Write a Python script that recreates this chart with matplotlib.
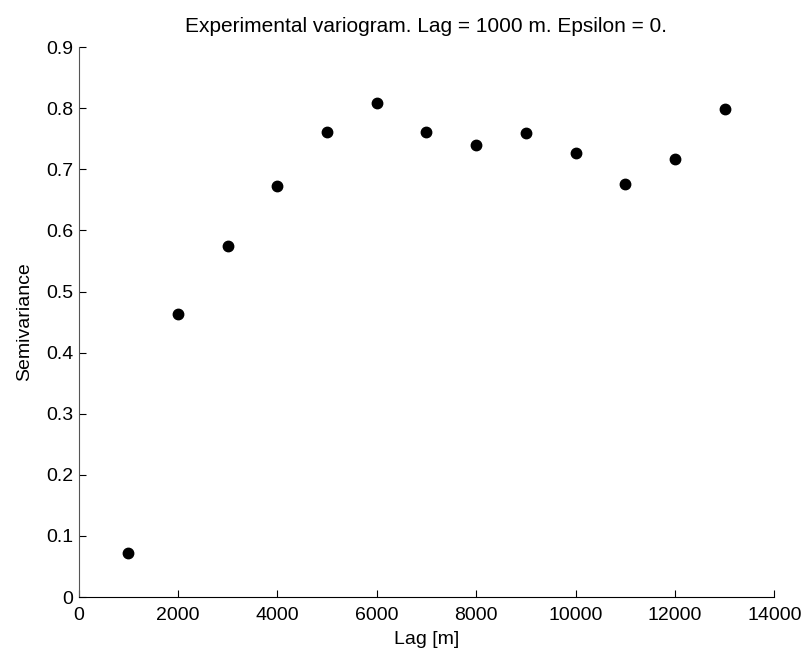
import matplotlib
matplotlib.use("Agg")
import matplotlib.pyplot as plt

plt.rcParams['font.family'] = ['Liberation Sans', 'DejaVu Sans']

lags = [1000, 2000, 3000, 4000, 5000, 6000, 7000, 8000, 9000, 10000, 11000, 12000, 13000]
semivariance = [0.072, 0.463, 0.575, 0.673, 0.761, 0.809, 0.761, 0.740, 0.759, 0.727, 0.676, 0.717, 0.798]
xticks = [0, 2000, 4000, 6000, 8000, 10000, 12000, 14000]
yticks = [0, 0.1, 0.2, 0.3, 0.4, 0.5, 0.6, 0.7, 0.8, 0.9]

fig = plt.figure(figsize=(8.07, 6.55), dpi=100)
ax = fig.add_axes([0.0975, 0.0885, 0.862, 0.8395])
ax.plot(lags, semivariance, 'o', color='black', markersize=7.5)
ax.set_xlim(0, 14000)
ax.set_ylim(0, 0.9)
ax.set_xticks(xticks)
ax.set_xticklabels([str(t) for t in xticks])
ax.set_yticks(yticks)
ax.set_yticklabels(['0'] + ['%.1f' % t for t in yticks[1:]])
ax.spines['top'].set_visible(False)
ax.spines['right'].set_visible(False)
ax.spines['left'].set_color('#555555')
ax.tick_params(direction='in', length=5, labelsize=14)
ax.tick_params(axis='x', pad=7)
ax.tick_params(axis='y', pad=4)
ax.set_xlabel('Lag [m]', fontsize=14, labelpad=5)
ax.set_ylabel('Semivariance', fontsize=14, labelpad=9)
ax.set_title('Experimental variogram. Lag = 1000 m. Epsilon = 0.', fontsize=15, pad=11)
fig.savefig('out.png', dpi=100)
